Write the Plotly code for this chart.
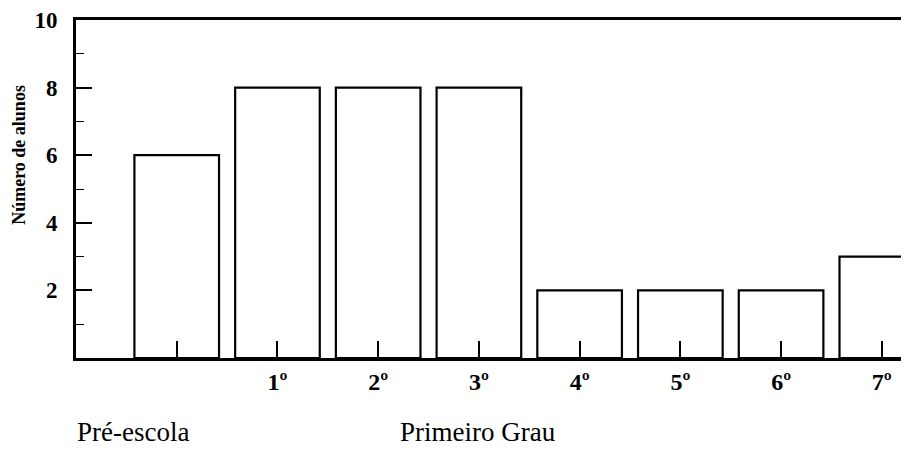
import plotly.graph_objects as go

categories = ["Pré-escola", "1º", "2º", "3º", "4º", "5º", "6º", "7º"]
alunos = [6, 8, 8, 8, 2, 2, 2, 3]
tick_labels = ["", "1º", "2º", "3º", "4º", "5º", "6º", "7º"]
y_ticks = [2, 4, 6, 8, 10]
group_labels = ["Pré-escola", "Primeiro Grau"]

SERIF = "Liberation Serif, Times New Roman, serif"

fig = go.Figure()
fig.add_trace(go.Bar(
    x=categories, y=alunos, width=0.84,
    marker=dict(color="white", line=dict(color="black", width=2.2)),
    showlegend=False, hoverinfo="skip",
))

OFF = 8  # default page body margin
W, H = 909 - OFF, 450 - OFF
# target pixel positions in the window
L_px, T_px, BOT_px, R_px = 76, 17, 358, 909
L = L_px - OFF
T = T_px - OFF
B = 450 - BOT_px
R = 0
pw = R_px - L_px
ph = BOT_px - T_px

fig.update_layout(
    width=W, height=H,
    margin=dict(l=L, r=R, t=T, b=B),
    plot_bgcolor="white", paper_bgcolor="white",
    bargap=0.16,
)
fig.update_xaxes(
    type="category", range=[-1.0, 7.27],
    tickvals=categories, ticktext=tick_labels,
    ticks="inside", ticklen=17, tickwidth=1.8, tickcolor="black",
    showline=True, linecolor="black", linewidth=2.5, mirror=True,
    showgrid=False, zeroline=False,
    tickfont=dict(family=SERIF, size=24, color="black", weight="bold"),
    ticklabelstandoff=0,
)
fig.update_yaxes(
    range=[0, 10], tickvals=y_ticks,
    ticks="inside", ticklen=16, tickwidth=1.5, tickcolor="black",
    minor=dict(dtick=1, tick0=0, ticks="inside", ticklen=8, tickwidth=1.2, tickcolor="black"),
    showline=True, linecolor="black", linewidth=3,
    showgrid=False, zeroline=False,
    tickfont=dict(family=SERIF, size=23, color="black", weight="bold"),
    ticklabelstandoff=11, ticklabeloverflow="allow",
)

def px_x(p):
    return (p - L_px) / pw

def px_y(p):
    return (BOT_px - p) / ph

fig.add_annotation(
    text=group_labels[0], xref="paper", yref="paper",
    x=px_x(75), y=px_y(433), xanchor="left", yanchor="middle",
    showarrow=False, font=dict(family=SERIF, size=27, color="black"),
)
fig.add_annotation(
    text=group_labels[1], xref="paper", yref="paper",
    x=px_x(398), y=px_y(433), xanchor="left", yanchor="middle",
    showarrow=False, font=dict(family=SERIF, size=27, color="black"),
)
fig.add_annotation(
    text="Número de alunos", xref="paper", yref="paper",
    x=px_x(19), y=px_y(153), xanchor="center", yanchor="middle",
    textangle=-90, showarrow=False,
    font=dict(family=SERIF, size=18, color="black", weight="bold"),
)

fig.write_html("out.html")
